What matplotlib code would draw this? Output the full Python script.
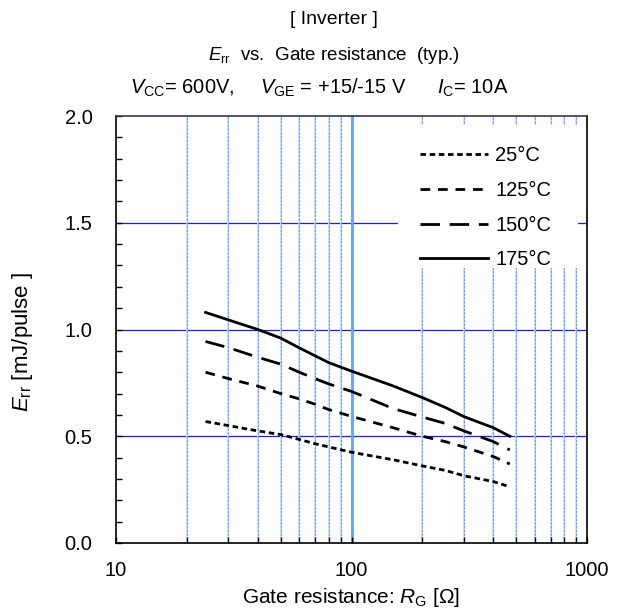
import numpy as np
import matplotlib.pyplot as plt
from matplotlib.patches import Rectangle
from matplotlib.ticker import FixedLocator, MultipleLocator, NullFormatter

plt.rcParams['font.family'] = ['Liberation Sans', 'DejaVu Sans']
plt.rcParams['mathtext.fontset'] = 'custom'
plt.rcParams['mathtext.rm'] = 'Liberation Sans'
plt.rcParams['mathtext.it'] = 'Liberation Sans:italic'

# gate resistance [ohm]
rg = [24, 30, 40, 50, 60, 70, 80, 100, 150, 200, 250, 300, 400, 470]
# Err [mJ/pulse] per junction temperature
err_25 = [0.569, 0.55, 0.525, 0.508, 0.485, 0.465, 0.45, 0.425, 0.39, 0.361, 0.34, 0.315, 0.288, 0.263]
err_125 = [0.80, 0.77, 0.735, 0.70, 0.675, 0.65, 0.625, 0.593, 0.54, 0.50, 0.475, 0.45, 0.405, 0.37]
err_150 = [0.944, 0.915, 0.87, 0.838, 0.80, 0.77, 0.745, 0.71, 0.63, 0.59, 0.56, 0.525, 0.475, 0.436]
err_175 = [1.08, 1.045, 1.0, 0.96, 0.914, 0.877, 0.845, 0.805, 0.736, 0.681, 0.635, 0.592, 0.54, 0.50]
labels = ['25°C', '125°C', '150°C', '175°C']

fig = plt.figure(figsize=(6.23, 6.12), dpi=100)
ax = fig.add_axes([116/623, 1 - 543/612, (587 - 116)/623, (543 - 116)/612])

# grid
for v in [0.5, 1.0, 1.5]:
    ax.axhline(v, color='#1a1aff', lw=0.9, zorder=1)
minor_x = [m * d for d in (10, 100) for m in range(2, 10)]
for xv in minor_x:
    ax.axvline(xv, color='#c8ddff', lw=1.3, zorder=1)
    ax.axvline(xv, color='#4d8cff', lw=0.6, ls=(0, (3, 1.5)), zorder=1)
ax.axvline(100, color='#6fa3ff', lw=2.2, zorder=1)

# white box behind the legend hides the grid
ax.add_patch(Rectangle((0.599, 0.644), 0.382, 0.335, transform=ax.transAxes,
                       facecolor='white', edgecolor='none', zorder=2))

styles = [(0, (2.0, 1.3)), (0, (3.5, 2.8)), (0, (7.0, 3.5)), '-']
for y, lab, st in zip([err_25, err_125, err_150, err_175], labels, styles):
    ax.plot(rg, y, color='black', lw=2.0, ls=st, label=lab, zorder=3)

ax.set_xscale('log')
ax.set_xlim(10, 1000)
ax.set_ylim(0, 2.0)
ax.xaxis.set_major_locator(FixedLocator([10, 100, 1000]))
ax.xaxis.set_major_formatter(plt.FuncFormatter(lambda v, p: f'{int(v)}'))
ax.xaxis.set_minor_locator(FixedLocator(minor_x))
ax.xaxis.set_minor_formatter(NullFormatter())
ax.yaxis.set_major_locator(MultipleLocator(0.5))
ax.yaxis.set_major_formatter(plt.FuncFormatter(lambda v, p: f'{v:.1f}'))
ax.yaxis.set_minor_locator(MultipleLocator(0.1))
ax.tick_params(which='both', direction='in', labelsize=14.5, top=False, right=False)
ax.tick_params(which='both', length=4, width=1)
ax.tick_params(axis='x', pad=13)
ax.tick_params(axis='y', pad=17)
for s in ax.spines.values():
    s.set_linewidth(1.2)
ax.spines['top'].set_color('#333366')

ax.set_xlabel(r'Gate resistance: $R_{\mathrm{G}}$ [Ω]', fontsize=15, labelpad=4)
ax.set_ylabel(r'$E_{\mathrm{rr}}$ [mJ/pulse ]', fontsize=16)
ax.yaxis.set_label_coords(-0.172, 0.47)

leg = ax.legend(loc='upper left', frameon=False, fontsize=14.5, handlelength=3.4,
                labelspacing=0.78, handletextpad=0.35, borderaxespad=0,
                bbox_to_anchor=(0.628, 0.948))

fig.text(334/623, 1 - 20/612, '[ Inverter ]', ha='center', va='center', fontsize=14)
fig.text(334/623, 1 - 55/612, r'$E_{\mathrm{rr}}$  vs.  Gate resistance  (typ.)',
         ha='center', va='center', fontsize=13.5)
sub_y = 1 - 88/612
fig.text(130/623, sub_y, r'$V_{\mathrm{CC}}$= 600V,', ha='left', va='center', fontsize=14.5)
fig.text(260/623, sub_y, r'$V_{\mathrm{GE}}$ = +15/-15 V', ha='left', va='center', fontsize=14.5)
fig.text(437/623, sub_y, r'$I_{\mathrm{C}}$= 10A', ha='left', va='center', fontsize=14.5)

fig.savefig('out.png', dpi=100)
